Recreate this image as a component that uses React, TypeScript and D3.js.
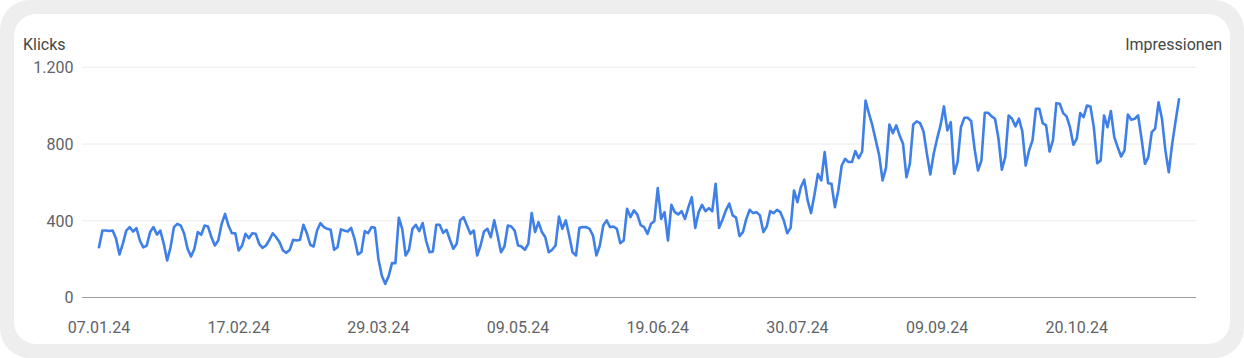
import React from 'react';
import * as d3 from 'd3';

const START_DATE = '2024-01-07';
const X_TICK_STEP_DAYS = 41;
const Y_TICKS = [0, 400, 800, 1200];
const LEFT_TITLE = 'Klicks';
const RIGHT_TITLE = 'Impressionen';

// daily clicks, one row per week
const clicks = [
  262, 349, 349, 347, 349, 307, 224,
  281, 349, 367, 344, 361, 297, 261,
  271, 341, 367, 328, 349, 281, 193,
  262, 367, 384, 375, 332, 254, 214,
  254, 341, 327, 375, 370, 314, 271,
  297, 384, 436, 375, 335, 335, 245,
  271, 332, 309, 335, 332, 280, 259,
  271, 300, 335, 314, 288, 245, 233,
  249, 301, 297, 301, 379, 335, 275,
  266, 349, 388, 367, 358, 353, 249,
  262, 355, 349, 344, 363, 306, 224,
  236, 346, 335, 367, 363, 202, 115,
  71, 110, 179, 179, 416, 358, 219,
  249, 358, 379, 346, 388, 297, 236,
  240, 379, 379, 337, 353, 301, 254,
  280, 402, 419, 375, 332, 349, 219,
  271, 344, 358, 314, 402, 323, 236,
  266, 375, 370, 349, 271, 266, 249,
  280, 440, 341, 393, 341, 314, 236,
  249, 271, 422, 358, 402, 323, 236,
  219, 363, 367, 367, 358, 323, 219,
  271, 375, 402, 367, 370, 358, 283,
  297, 463, 419, 454, 432, 377, 367,
  332, 384, 398, 570, 410, 445, 297,
  483, 445, 433, 450, 410, 471, 523,
  363, 445, 483, 450, 466, 450, 593,
  363, 405, 454, 489, 428, 416, 320,
  341, 410, 457, 440, 445, 428, 341,
  370, 450, 440, 457, 445, 402, 335,
  363, 558, 497, 575, 614, 506, 440,
  536, 643, 610, 758, 596, 593, 471,
  558, 688, 723, 706, 706, 763, 726,
  761, 1027, 958, 897, 819, 741, 610,
  676, 902, 857, 897, 845, 801, 627,
  697, 902, 918, 909, 867, 749, 641,
  749, 828, 897, 996, 871, 914, 645,
  706, 888, 937, 937, 919, 775, 662,
  714, 963, 963, 944, 932, 830, 666,
  732, 949, 932, 892, 932, 867, 688,
  767, 819, 984, 984, 909, 897, 761,
  819, 1013, 1010, 961, 944, 888, 796,
  828, 961, 940, 1001, 996, 888, 700,
  714, 949, 888, 972, 836, 784, 735,
  767, 954, 927, 932, 949, 828, 697,
  732, 862, 880, 1018, 932, 767, 653,
  801, 920, 1033,
];

const W = 1244;
const H = 358;
const FONT = 'Roboto, "Noto Sans", Arial, sans-serif';

export default function App() {
  const start = d3.utcParse('%Y-%m-%d')(START_DATE) as Date;
  const dates = clicks.map((_, i) => d3.utcDay.offset(start, i));

  const x = d3
    .scaleUtc()
    .domain([dates[0], dates[dates.length - 1]])
    .range([99, 1179]);
  const y = d3.scaleLinear().domain([0, 1200]).range([297.5, 67.3]);

  const de = d3.formatLocale({
    decimal: ',',
    thousands: '.',
    grouping: [3],
    currency: ['', ' €'],
  });
  const yFmt = de.format(',');
  const xFmt = d3.utcFormat('%d.%m.%y');

  const xTicks = d3.range(0, clicks.length, X_TICK_STEP_DAYS).map((i) => dates[i]);

  const line = d3
    .line<number>()
    .x((_, i) => x(dates[i]))
    .y((d) => y(d))
    .curve(d3.curveLinear);

  const gridX0 = 82;
  const gridX1 = 1196;

  return (
    <div style={{ position: 'absolute', left: 0, top: 0, width: W, height: H }}>
      <svg width={W} height={H} viewBox={`0 0 ${W} ${H}`} style={{ display: 'block' }}>
        <rect x={0} y={0} width={W} height={H} fill="#ffffff" />
        <rect x={0} y={0} width={W} height={H} rx={30} ry={30} fill="#eeeeee" />
        <rect x={14} y={14} width={1216} height={330} rx={22} ry={22} fill="#ffffff" />

        <text x={23} y={49.5} fontFamily={FONT} fontSize={16} fill="#444746">
          {LEFT_TITLE}
        </text>
        <text x={1222} y={49.5} fontFamily={FONT} fontSize={16} fill="#444746" textAnchor="end">
          {RIGHT_TITLE}
        </text>

        {Y_TICKS.map((t) => (
          <g key={t}>
            <line
              x1={gridX0}
              x2={gridX1}
              y1={y(t)}
              y2={y(t)}
              stroke={t === 0 ? '#9e9e9e' : '#ebebeb'}
              strokeWidth={t === 0 ? 1.2 : 1}
            />
            <text
              x={73.5}
              y={y(t)}
              dy="0.36em"
              textAnchor="end"
              fontFamily={FONT}
              fontSize={16}
              fill="#5f6368"
            >
              {yFmt(t)}
            </text>
          </g>
        ))}

        {xTicks.map((d, i) => (
          <text
            key={i}
            x={x(d)}
            y={332.5}
            textAnchor="middle"
            fontFamily={FONT}
            fontSize={16}
            fill="#5f6368"
          >
            {xFmt(d)}
          </text>
        ))}

        <path
          d={line(clicks) || ''}
          fill="none"
          stroke="#3f7fe8"
          strokeWidth={2.6}
          strokeLinejoin="round"
          strokeLinecap="round"
        />
      </svg>
    </div>
  );
}
